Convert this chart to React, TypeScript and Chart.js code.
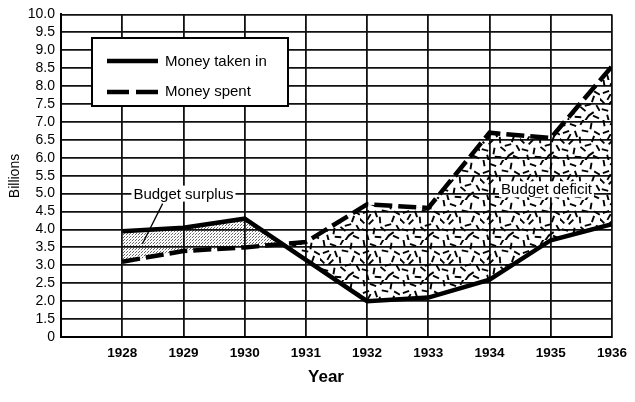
import React, { useEffect, useRef } from 'react';
import { Chart, registerables } from 'chart.js';

Chart.register(...registerables);

const years = [1928, 1929, 1930, 1931, 1932, 1933, 1934, 1935, 1936];
const moneyTakenIn = [3.95, 4.05, 4.3, 3.15, 2.0, 2.1, 2.6, 3.7, 4.15];
const moneySpent = [3.1, 3.4, 3.5, 3.65, 4.7, 4.6, 6.7, 6.55, 8.55];
const seriesLabels = ['Money taken in', 'Money spent'];
const xRange = [1927, 1936];
const yRange = [1, 10]; // the bottom tick is an axis break labelled "0"
const yStep = 0.5;
const xTitle = 'Year';
const yTitle = 'Billions';
const surplusLabel = { text: 'Budget surplus', x: 1929.0, y: 5.0 };
const surplusPointer = { x1: 1928.66, y1: 4.72, x2: 1928.33, y2: 3.6 };
const deficitLabel = { text: 'Budget deficit', x: 1934.93, y: 5.12 };

const FONT = '"Liberation Sans", Arial, Helvetica, sans-serif';
const INK = '#000';

// texture tile for the deficit area: short strokes (cx, cy, angle in degrees)
const deficitStrokes = [
  [4, 3, 80], [13, 5, 20], [22, 2, -60], [31, 6, 100], [37, 13, 30],
  [6, 12, -20], [16, 14, 70], [25, 11, 10], [33, 19, -70], [2, 21, 45],
  [11, 22, -45], [20, 20, 85], [28, 25, -15], [38, 28, 60], [5, 30, 15],
  [14, 31, -80], [23, 29, 40], [31, 34, -35], [8, 38, 75], [18, 37, 5],
  [27, 38, -55], [36, 37, 25], [9, 17, -60],
];

function makeStipple(ctx: CanvasRenderingContext2D) {
  const c = document.createElement('canvas');
  c.width = 3;
  c.height = 3;
  const g = c.getContext('2d')!;
  g.fillStyle = 'rgba(0,0,0,0.6)';
  g.fillRect(0, 0, 1, 1);
  g.fillRect(1, 2, 1, 1);
  g.fillStyle = 'rgba(0,0,0,0.15)';
  g.fillRect(2, 1, 1, 1);
  return ctx.createPattern(c, 'repeat')!;
}

function makeDeficit(ctx: CanvasRenderingContext2D) {
  const c = document.createElement('canvas');
  c.width = 40;
  c.height = 40;
  const g = c.getContext('2d')!;
  g.strokeStyle = '#000';
  g.lineWidth = 1.9;
  g.lineCap = 'butt';
  const half = 3.3;
  for (const [cx, cy, a] of deficitStrokes) {
    const r = (a * Math.PI) / 180;
    const dx = Math.cos(r) * half;
    const dy = Math.sin(r) * half;
    g.beginPath();
    g.moveTo(cx - dx, cy - dy);
    g.lineTo(cx + dx, cy + dy);
    g.stroke();
  }
  return ctx.createPattern(c, 'repeat')!;
}

const decorPlugin = {
  id: 'decor',
  afterDatasetsDraw(chart: any) {
    const { ctx, scales } = chart;
    const xs = scales.x;
    const ys = scales.y;
    ctx.save();
    // annotation labels with white backing
    ctx.font = `15px ${FONT}`;
    ctx.textBaseline = 'middle';
    ctx.textAlign = 'center';
    for (const lab of [surplusLabel, deficitLabel]) {
      const px = xs.getPixelForValue(lab.x);
      const py = ys.getPixelForValue(lab.y);
      const w = ctx.measureText(lab.text).width;
      ctx.fillStyle = '#fff';
      ctx.fillRect(px - w / 2 - 2, py - 8, w + 4, 16);
      ctx.fillStyle = INK;
      ctx.fillText(lab.text, px, py + 1);
    }
    // pointer
    ctx.strokeStyle = INK;
    ctx.lineWidth = 1.3;
    ctx.beginPath();
    ctx.moveTo(xs.getPixelForValue(surplusPointer.x1), ys.getPixelForValue(surplusPointer.y1));
    ctx.lineTo(xs.getPixelForValue(surplusPointer.x2), ys.getPixelForValue(surplusPointer.y2));
    ctx.stroke();

    // legend box
    const bx = 92, by = 38, bw = 196, bh = 68;
    ctx.fillStyle = '#fff';
    ctx.fillRect(bx, by, bw, bh);
    ctx.strokeStyle = INK;
    ctx.lineWidth = 2;
    ctx.strokeRect(bx, by, bw, bh);
    ctx.lineWidth = 4.5;
    ctx.beginPath();
    ctx.moveTo(107, 61);
    ctx.lineTo(158, 61);
    ctx.stroke();
    ctx.setLineDash([22, 7]);
    ctx.beginPath();
    ctx.moveTo(107, 92);
    ctx.lineTo(158, 92);
    ctx.stroke();
    ctx.setLineDash([]);
    ctx.fillStyle = INK;
    ctx.font = `15px ${FONT}`;
    ctx.textAlign = 'left';
    ctx.textBaseline = 'middle';
    ctx.fillText(seriesLabels[0], 165, 62);
    ctx.fillText(seriesLabels[1], 165, 92);

    // axis titles
    ctx.font = `bold 17px ${FONT}`;
    ctx.textAlign = 'center';
    ctx.fillText(xTitle, 326, 377);
    ctx.translate(15, 176);
    ctx.rotate(-Math.PI / 2);
    ctx.font = `14px ${FONT}`;
    ctx.fillText(yTitle, 0, 0);
    ctx.restore();
  },
};

export default function App() {
  const ref = useRef<HTMLCanvasElement>(null);
  useEffect(() => {
    const canvas = ref.current!;
    const ctx = canvas.getContext('2d')!;
    const stipple = makeStipple(ctx);
    const deficit = makeDeficit(ctx);
    const yTickFont = { family: FONT, size: 14 };
    const xTickFont = { family: FONT, size: 13.5, weight: 'bold' as const };
    const chart = new Chart(canvas, {
      type: 'line',
      data: {
        datasets: [
          {
            label: seriesLabels[0],
            data: moneyTakenIn.map((v, i) => ({ x: years[i], y: v })),
            borderColor: INK,
            borderWidth: 4.5,
            pointRadius: 0,
            tension: 0,
            fill: { target: 1, above: stipple, below: deficit } as any,
          },
          {
            label: seriesLabels[1],
            data: moneySpent.map((v, i) => ({ x: years[i], y: v })),
            borderColor: INK,
            borderWidth: 4.5,
            borderDash: [18, 6],
            pointRadius: 0,
            tension: 0,
            fill: false,
          },
        ],
      },
      options: {
        animation: false,
        responsive: false,
        layout: { padding: { top: 12, right: 20, left: 0, bottom: 0 } },
        plugins: {
          legend: { display: false },
          tooltip: { enabled: false },
        },
        scales: {
          x: {
            type: 'linear',
            min: xRange[0],
            max: xRange[1],
            afterFit: (s: any) => {
              s.height = 65;
            },
            ticks: {
              stepSize: 1,
              autoSkip: false,
              maxRotation: 0,
              padding: 8,
              color: INK,
              font: xTickFont,
              callback: (v: any) => (v === xRange[0] ? '' : String(v)),
            },
            grid: { color: '#111', lineWidth: 1.8, drawTicks: false },
            border: { color: INK, width: 2 },
          },
          y: {
            type: 'linear',
            min: yRange[0],
            max: yRange[1],
            afterFit: (s: any) => {
              s.width = 61;
            },
            ticks: {
              stepSize: yStep,
              autoSkip: false,
              padding: 6,
              color: INK,
              font: yTickFont,
              callback: (v: any) => (v === yRange[0] ? '0' : Number(v).toFixed(1)),
            },
            grid: { color: '#111', lineWidth: 1.8, drawTicks: false },
            border: { color: INK, width: 2 },
          },
        },
      },
      plugins: [decorPlugin],
    });
    return () => chart.destroy();
  }, []);
  return (
    <div style={{ position: 'fixed', left: 0, top: 0, width: 635, height: 402, background: '#fff' }}>
      <canvas ref={ref} width={635} height={402} style={{ display: 'block' }} />
    </div>
  );
}
